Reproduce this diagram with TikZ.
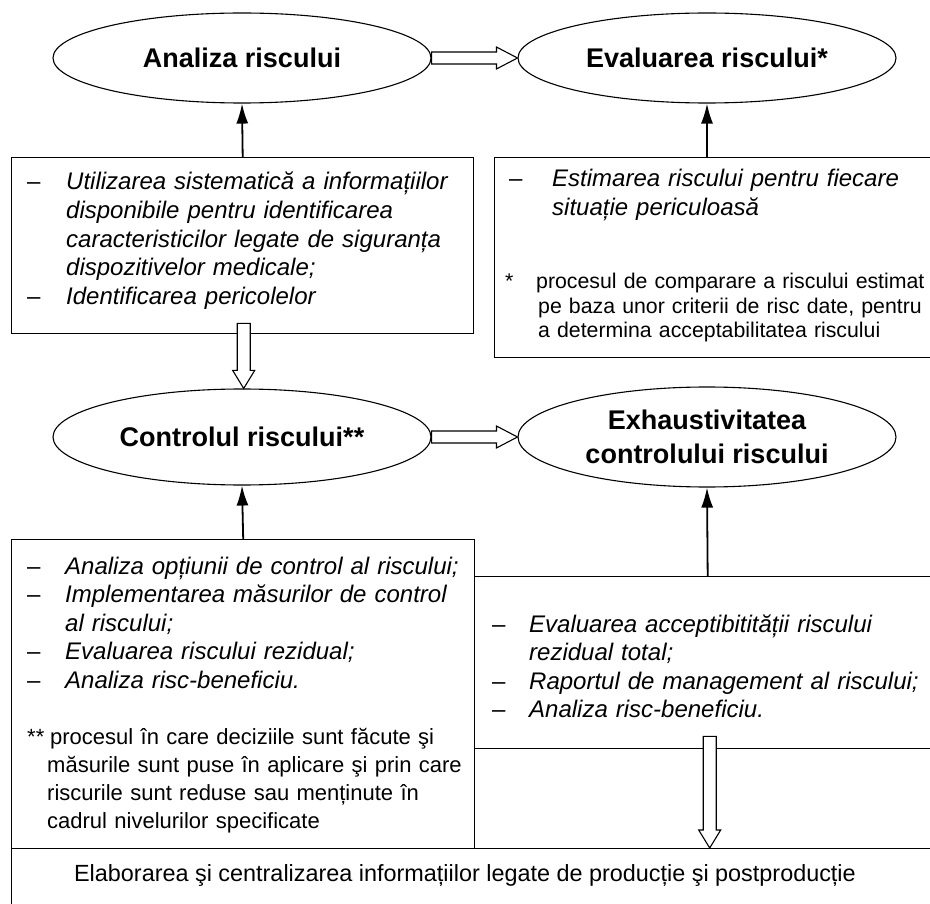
\documentclass[tikz,border=0pt]{standalone}
\usepackage{fontspec}
\setmainfont{Liberation Sans}
\usetikzlibrary{shapes.geometric, arrows.meta, calc}
\setlength{\parindent}{0pt}

\newcommand{\lin}[1]{\makebox[#1pt][l]{\upshape –}}
\newcommand{\ret}[1]{\hspace*{#1pt}}
% hollow arrows: from #1 (start of shaft) to #2 (tip)
\newcommand{\golOriz}[2]{%
  \draw[gol] ($(#1)+(0,-6)$) -- ($(#2)+(-21,-6)$) -- ($(#2)+(-21,-11)$) -- (#2)
    -- ($(#2)+(-21,11)$) -- ($(#2)+(-21,6)$) -- ($(#1)+(0,6)$) -- cycle;}
\newcommand{\golVert}[2]{%
  \draw[gol] ($(#1)+(-6.5,0)$) -- ($(#2)+(-6.5,-18)$) -- ($(#2)+(-11,-18)$) -- (#2)
    -- ($(#2)+(11,-18)$) -- ($(#2)+(6.5,-18)$) -- ($(#1)+(6.5,0)$) -- cycle;}

\tikzset{
  faza/.style={draw, ellipse, line width=1.1pt, inner sep=0pt, align=center,
    minimum width=378pt, font=\fontsize{27}{34}\selectfont\bfseries},
  cadru/.style={draw, line width=1.4pt, inner sep=0pt, anchor=north west},
  lista/.style={anchor=base west, inner sep=0pt, text width=450pt, align=left,
    font=\fontsize{24}{28.6}\selectfont\itshape},
  nota/.style={anchor=base west, inner sep=0pt, text width=450pt, align=left},
  sageata/.style={line width=1.8pt, -{Latex[length=20pt,width=12pt]}},
  gol/.style={draw, fill=white, line width=1.1pt},
}

\begin{document}
\begin{tikzpicture}[x=1pt, y=-1pt]
      \useasboundingbox (0,0) rectangle (930,904);

      % 1. the four phases
      \node[faza, minimum height=90pt]  (anaRisc)  at (242,58)  {Analiza riscului};
      \node[faza, minimum height=90pt]  (evaRisc)  at (707,58)  {Evaluarea riscului*};
      \node[faza, minimum height=96pt]  (ctrlRisc) at (242,437) {Controlul riscului**};
      \node[faza, minimum height=100pt] (exhRisc)  at (707,437) {Exhaustivitatea\\controlului riscului};

      % 2. the boxes (right edges and bottom run off the page)
      \node[cadru, minimum width=462pt, minimum height=176pt] (boxA) at (11,157) {};
      \node[cadru, minimum width=446pt, minimum height=200pt] (boxB) at (494,157) {};
      \node[cadru, minimum width=463pt, minimum height=309pt] (boxC) at (11,539) {};
      \node[cadru, minimum width=466pt, minimum height=172pt] (boxD) at (474,576) {};
      \node[cadru, minimum width=929pt, minimum height=72pt]  (boxE) at (11,848) {};

      % 3. texts of the boxes
      \node[lista] (txtA) at (27,190) {\lin{39}Utilizarea sistematică a informațiilor\\
        \ret{39}disponibile pentru identificarea\\
        \ret{39}caracteristicilor legate de siguranța\\
        \ret{39}dispozitivelor medicale;\\
        \lin{39}Identificarea pericolelor};
      \node[lista] (txtB) at (509,187) {\lin{43}Estimarea riscului pentru fiecare\\
        \ret{43}situație periculoasă};
      \node[nota, font=\fontsize{21.3}{24.5}\selectfont] (notaB) at (505,289)
        {\makebox[31pt][l]{*}procesul de comparare a riscului estimat\\
        \ret{33}pe baza unor criterii de risc date, pentru\\
        \ret{33}a determina acceptabilitatea riscului};
      \node[lista] (txtC) at (27,574) {\lin{38}Analiza opțiunii de control al riscului;\\
        \lin{38}Implementarea măsurilor de control\\
        \ret{38}al riscului;\\
        \lin{38}Evaluarea riscului rezidual;\\
        \lin{38}Analiza risc-beneficiu.};
      \node[nota, font=\fontsize{22}{28}\selectfont] (notaC) at (27,744)
        {\makebox[23pt][l]{**}procesul în care deciziile sunt făcute şi\\
        \ret{20}măsurile sunt puse în aplicare şi prin care\\
        \ret{20}riscurile sunt reduse sau menținute în\\
        \ret{20}cadrul nivelurilor specificate};
      \node[lista] (txtD) at (492,632) {\lin{37}Evaluarea acceptibitității riscului\\
        \ret{37}rezidual total;\\
        \lin{37}Raportul de management al riscului;\\
        \lin{37}Analiza risc-beneficiu.};
      \node[anchor=base, inner sep=0pt, font=\fontsize{23.4}{28}\selectfont] (txtE) at (465,881)
        {Elaborarea şi centralizarea informațiilor legate de producție şi postproducție};

      % 4. plain arrows up to the phases
      \draw[sageata] (boxA.north) -- (anaRisc.south);
      \draw[sageata] (boxB.north -| evaRisc.south) -- (evaRisc.south);
      \draw[sageata] (boxC.north) -- (ctrlRisc.south);
      \draw[sageata] (boxD.north) -- (exhRisc.south);

      % 5. hollow arrows
      \golOriz{anaRisc.east}{evaRisc.west}
      \golOriz{ctrlRisc.east}{exhRisc.west}
      \coordinate (gA) at ($(boxA.south)+(1,-11)$);
      \golVert{gA}{gA |- ctrlRisc.north}
      \coordinate (gD) at ($(boxD.south)+(2,-13)$);
      \golVert{gD}{gD |- boxE.north}
\end{tikzpicture}
\end{document}
